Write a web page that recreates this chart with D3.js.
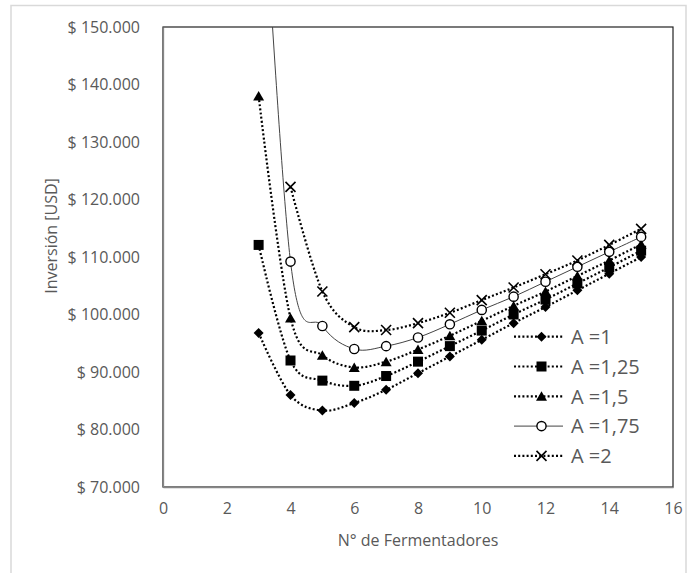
<!DOCTYPE html>
<html>
<head>
<meta charset="utf-8">
<script src="https://cdn.jsdelivr.net/npm/d3@7/dist/d3.min.js"></script>
<style>
  html, body { margin: 0; padding: 0; background: #fff; }
  svg { display: block; }
  text { font-family: "Open Sans", "Noto Sans", sans-serif; fill: #595959; }
</style>
</head>
<body>
<svg id="chart" width="691" height="573"></svg>
<script>
// ---- Data ----
const fermentadores = [3, 4, 5, 6, 7, 8, 9, 10, 11, 12, 13, 14, 15];
const A1    = [96800, 86000, 83300, 84600, 86900, 89800, 92700, 95600, 98500, 101300, 104200, 107100, 110000];
const A125  = [112100, 92000, 88500, 87600, 89300, 91800, 94500, 97200, 100000, 102600, 105400, 108200, 111100];
const A15   = [138000, 99400, 92900, 90800, 91800, 93900, 96300, 98900, 101500, 104000, 106700, 109400, 112200];
const A175  = [190000, 109200, 98000, 94000, 94500, 96000, 98300, 100800, 103100, 105700, 108300, 110900, 113500];
const A2    = [null, 122200, 104000, 97800, 97300, 98500, 100300, 102500, 104700, 107000, 109400, 112100, 114900];
const seriesNames = ["A =1", "A =1,25", "A =1,5", "A =1,75", "A =2"];
const xTicks = [0, 2, 4, 6, 8, 10, 12, 14, 16];
const yTicks = [70000, 80000, 90000, 100000, 110000, 120000, 130000, 140000, 150000];

const seriesValues = [A1, A125, A15, A175, A2];
const markerTypes = ["diamond", "square", "triangle", "circle", "cross"];
const lineStyles = ["dotted", "dotted", "dotted", "solid", "dotted"];

// ---- Layout ----
const svg = d3.select("#chart");
const pLeft = 163, pRight = 673, pTop = 27, pBottom = 487;
const x = d3.scaleLinear().domain([0, 16]).range([pLeft, pRight]);
const y = d3.scaleLinear().domain([70000, 150000]).range([pBottom, pTop]);

// outer chart border
svg.append("rect").attr("x", 11).attr("y", 5.5).attr("width", 675).attr("height", 600)
  .attr("fill", "none").attr("stroke", "#d9d9d9").attr("stroke-width", 1.5);

// plot area border
svg.append("rect").attr("x", pLeft).attr("y", pTop).attr("width", pRight - pLeft).attr("height", pBottom - pTop)
  .attr("fill", "none").attr("stroke", "#222").attr("stroke-width", 1.2);

svg.append("defs").append("clipPath").attr("id", "clip")
  .append("rect").attr("x", pLeft).attr("y", pTop).attr("width", pRight - pLeft).attr("height", pBottom - pTop);

// axes
const yAxis = d3.axisLeft(y).tickValues(yTicks).tickSize(0).tickPadding(23)
  .tickFormat(v => "$ " + d3.format(",")(v).replace(/,/g, "."));
const gy = svg.append("g").attr("transform", `translate(${pLeft},0)`).call(yAxis);
gy.select(".domain").attr("stroke", "#868686").attr("stroke-width", 1.3);
gy.selectAll("text").attr("font-size", 16).attr("fill", "#595959")
  .style("font-family", '"Open Sans", sans-serif');

const xAxis = d3.axisBottom(x).tickValues(xTicks).tickSize(0).tickPadding(16);
const gx = svg.append("g").attr("transform", `translate(0,${pBottom})`).call(xAxis);
gx.select(".domain").attr("stroke", "#868686").attr("stroke-width", 1.3);
gx.selectAll("text").attr("font-size", 16).attr("fill", "#595959")
  .style("font-family", '"Open Sans", sans-serif');

// axis titles
svg.append("text").attr("x", (pLeft + pRight) / 2).attr("y", 546).attr("text-anchor", "middle")
  .attr("font-size", 16).text("N° de Fermentadores");
svg.append("text").attr("transform", "translate(57,236) rotate(-90)").attr("text-anchor", "middle")
  .attr("font-size", 16).text("Inversión [USD]");

// markers
function drawMarker(g, type, cx, cy) {
  if (type === "diamond") {
    g.append("path").attr("d", `M${cx},${cy-5}L${cx+5},${cy}L${cx},${cy+5}L${cx-5},${cy}Z`).attr("fill", "#000");
  } else if (type === "square") {
    g.append("rect").attr("x", cx - 5).attr("y", cy - 5).attr("width", 10).attr("height", 10).attr("fill", "#000");
  } else if (type === "triangle") {
    g.append("path").attr("d", `M${cx},${cy-5}L${cx+5.5},${cy+4.5}L${cx-5.5},${cy+4.5}Z`).attr("fill", "#000");
  } else if (type === "circle") {
    g.append("circle").attr("cx", cx).attr("cy", cy).attr("r", 4.6)
      .attr("fill", "#fff").attr("stroke", "#000").attr("stroke-width", 1.4);
  } else if (type === "cross") {
    g.append("path").attr("d", `M${cx-5},${cy-5}L${cx+5},${cy+5}M${cx+5},${cy-5}L${cx-5},${cy+5}`)
      .attr("stroke", "#000").attr("stroke-width", 1.6).attr("fill", "none");
  }
}

function styleLine(sel, style) {
  if (style === "dotted") {
    sel.attr("stroke", "#000").attr("stroke-width", 2.2).attr("stroke-dasharray", "2,2.2");
  } else {
    sel.attr("stroke", "#444").attr("stroke-width", 1);
  }
  return sel;
}

const plot = svg.append("g").attr("clip-path", "url(#clip)");
const line = d3.line()
  .defined(d => d[1] != null)
  .x(d => x(d[0])).y(d => y(d[1]))
  .curve(d3.curveCardinal.tension(0));

seriesValues.forEach((vals, i) => {
  const pts = fermentadores.map((f, j) => [f, vals[j]]).filter(d => d[1] != null);
  const g = plot.append("g");
  styleLine(g.append("path").attr("d", line(pts)).attr("fill", "none"), lineStyles[i]);
  pts.forEach(d => drawMarker(g, markerTypes[i], x(d[0]), y(d[1])));
});

// legend
const legY0 = 336.7, legStep = 29.8;
seriesNames.forEach((name, i) => {
  const ly = legY0 + i * legStep;
  const g = svg.append("g");
  styleLine(g.append("line").attr("x1", 514).attr("x2", 563).attr("y1", ly).attr("y2", ly), lineStyles[i]);
  drawMarker(g, markerTypes[i], 541.5, ly);
  g.append("text").attr("x", 571).attr("y", ly).attr("dy", "0.36em").attr("font-size", 20).text(name);
});
</script>
</body>
</html>
